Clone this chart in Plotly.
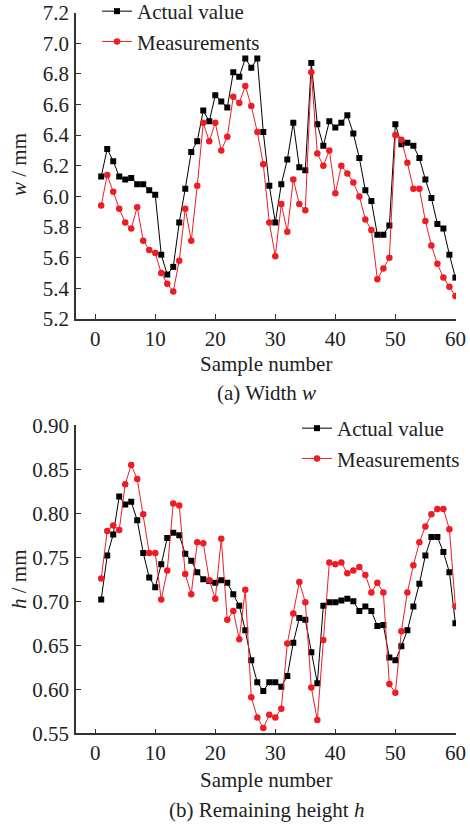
import plotly.graph_objects as go

# Sample numbers 1..60
samples = list(range(1, 61))

# (a) Width w, mm
w_actual = [6.13, 6.31, 6.23, 6.13, 6.11, 6.12, 6.08, 6.08, 6.04, 6.01,
            5.62, 5.49, 5.54, 5.83, 6.05, 6.29, 6.36, 6.56, 6.49, 6.66,
            6.62, 6.58, 6.81, 6.78, 6.90, 6.84, 6.90, 6.42, 6.07, 5.83,
            6.08, 6.24, 6.48, 6.19, 6.17, 6.87, 6.47, 6.33, 6.49, 6.45,
            6.48, 6.53, 6.41, 6.25, 6.04, 5.97, 5.75, 5.75, 5.81, 6.47,
            6.34, 6.35, 6.33, 6.25, 6.11, 5.99, 5.82, 5.79, 5.62, 5.47]
w_meas = [5.94, 6.14, 6.03, 5.92, 5.83, 5.79, 5.93, 5.71, 5.65, 5.63,
          5.50, 5.43, 5.38, 5.58, 5.92, 5.71, 6.07, 6.48, 6.36, 6.48,
          6.30, 6.39, 6.65, 6.61, 6.72, 6.59, 6.42, 6.21, 5.83, 5.61,
          5.95, 5.77, 6.11, 5.95, 5.91, 6.81, 6.28, 6.20, 6.30, 6.02,
          6.20, 6.15, 6.09, 6.00, 5.85, 5.78, 5.46, 5.53, 5.60, 6.40,
          6.37, 6.22, 6.05, 6.05, 5.84, 5.68, 5.56, 5.47, 5.41, 5.35]

# (b) Remaining height h, mm
h_actual = [0.702, 0.752, 0.776, 0.819, 0.810, 0.813, 0.792, 0.755, 0.727, 0.716,
            0.742, 0.772, 0.778, 0.775, 0.754, 0.746, 0.733, 0.725, 0.723, 0.721,
            0.724, 0.721, 0.708, 0.695, 0.667, 0.633, 0.608, 0.598, 0.608, 0.608,
            0.603, 0.615, 0.653, 0.681, 0.679, 0.642, 0.607, 0.695, 0.699, 0.699,
            0.701, 0.703, 0.700, 0.689, 0.694, 0.689, 0.672, 0.673, 0.636, 0.633,
            0.649, 0.667, 0.694, 0.720, 0.752, 0.773, 0.773, 0.756, 0.733, 0.675]
h_meas = [0.726, 0.780, 0.786, 0.781, 0.833, 0.855, 0.839, 0.799, 0.755, 0.755,
          0.702, 0.735, 0.811, 0.809, 0.731, 0.708, 0.767, 0.766, 0.724, 0.703,
          0.771, 0.679, 0.689, 0.657, 0.713, 0.591, 0.568, 0.556, 0.571, 0.568,
          0.578, 0.652, 0.686, 0.722, 0.699, 0.602, 0.565, 0.656, 0.744, 0.742,
          0.744, 0.732, 0.735, 0.739, 0.730, 0.710, 0.721, 0.710, 0.606, 0.596,
          0.666, 0.710, 0.741, 0.767, 0.785, 0.799, 0.805, 0.805, 0.782, 0.694]

x_ticks = [0, 10, 20, 30, 40, 50, 60]
w_ticks = [5.2, 5.4, 5.6, 5.8, 6.0, 6.2, 6.4, 6.6, 6.8, 7.0, 7.2]
w_labels = ['5.2', '5.4', '5.6', '5.8', '6.0', '6.2', '6.4', '6.6', '6.8', '7.0', '7.2']
h_ticks = [0.55, 0.60, 0.65, 0.70, 0.75, 0.80, 0.85, 0.90]
h_labels = ['0.55', '0.60', '0.65', '0.70', '0.75', '0.80', '0.85', '0.90']

FONT = 'Liberation Serif'
RED = '#ee1c25'
W, H = 470, 825


def px_x(p):
    # page pixel -> paper fraction
    return p / W


def px_y(p):
    return 1 - p / H


fig = go.Figure()

fig.add_trace(go.Scatter(x=samples, y=w_actual, mode='lines+markers', name='Actual value',
                         line=dict(color='black', width=1),
                         marker=dict(symbol='square', size=6, color='black'),
                         xaxis='x', yaxis='y', legend='legend'))
fig.add_trace(go.Scatter(x=samples, y=w_meas, mode='lines+markers', name='Measurements',
                         line=dict(color=RED, width=1),
                         marker=dict(symbol='circle', size=6.5, color=RED),
                         xaxis='x', yaxis='y', legend='legend'))
fig.add_trace(go.Scatter(x=samples, y=h_actual, mode='lines+markers', name='Actual value',
                         line=dict(color='black', width=1),
                         marker=dict(symbol='square', size=6, color='black'),
                         xaxis='x2', yaxis='y2', legend='legend2'))
fig.add_trace(go.Scatter(x=samples, y=h_meas, mode='lines+markers', name='Measurements',
                         line=dict(color=RED, width=1),
                         marker=dict(symbol='circle', size=6.5, color=RED),
                         xaxis='x2', yaxis='y2', legend='legend2'))

axis_style = dict(showgrid=False, zeroline=False, showline=True, linecolor='#333',
                  linewidth=1.5, ticks='inside', ticklen=5, tickwidth=1.2, tickcolor='#333',
                  automargin=False, ticklabeloverflow='allow',
                  tickfont=dict(family=FONT, size=21, color='#222'))

x_dom = [px_x(76), px_x(456)]
legend_style = dict(xanchor='left', yanchor='top', bgcolor='rgba(0,0,0,0)',
                    font=dict(family=FONT, size=21, color='#222'), tracegroupgap=0)
fig.update_layout(
    width=W, height=H,
    paper_bgcolor='white', plot_bgcolor='white',
    margin=dict(l=0, r=0, t=0, b=0, autoexpand=False),
    font=dict(family=FONT, size=21, color='#222'),
    xaxis=dict(domain=x_dom, range=[-3.2, 60.1], tickvals=x_ticks, anchor='y',
               ticklabelstandoff=0, **axis_style),
    yaxis=dict(domain=[px_y(319), px_y(12.5)], range=[5.2, 7.2], tickvals=w_ticks,
               ticktext=w_labels, anchor='x', ticklabelstandoff=1, **axis_style),
    xaxis2=dict(domain=x_dom, range=[-3.2, 60.1], tickvals=x_ticks, anchor='y2',
                ticklabelstandoff=0, **axis_style),
    yaxis2=dict(domain=[px_y(733.3), px_y(425.3)], range=[0.55, 0.90], tickvals=h_ticks,
                ticktext=h_labels, anchor='x2', ticklabelstandoff=1, **axis_style),
    legend=dict(x=px_x(97), y=px_y(-9), **legend_style),
    legend2=dict(x=px_x(297), y=px_y(408), **legend_style),
)

annots = [
    dict(text='Sample number', x=px_x(266), y=px_y(364)),
    dict(text='(a) Width <i>w</i>', x=px_x(266), y=px_y(393)),
    dict(text='Sample number', x=px_x(266), y=px_y(780)),
    dict(text='(b) Remaining height <i>h</i>', x=px_x(266), y=px_y(810)),
    dict(text='<i>w</i> / mm', x=px_x(19), y=px_y(165), textangle=-90),
    dict(text='<i>h</i> / mm', x=px_x(19), y=px_y(579), textangle=-90),
]
for a in annots:
    fig.add_annotation(xref='paper', yref='paper', showarrow=False,
                       xanchor='center', yanchor='middle',
                       font=dict(family=FONT, size=21, color='#222'), **a)

# drop the default 8px body margin so the figure fills the page
fig.write_html('out.html', config={'displayModeBar': False},
               post_script="document.body.style.margin='0';document.body.style.overflow='hidden';")
